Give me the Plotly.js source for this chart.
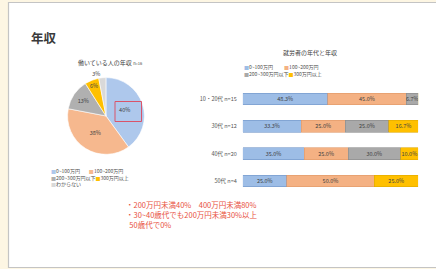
<!DOCTYPE html>
<html><head><meta charset="utf-8">
<script src="https://cdn.plot.ly/plotly-3.0.1.min.js"></script>
<style>html,body{margin:0;padding:0;background:#fdf6e3;}#c{width:436px;height:269px;}</style>
</head><body><div id="c"></div>
<script>
// Pie data
const pieLabels = ['0~100万円','100~200万円','200~300万円以下','300万円以上','わからない'];
const pieValues = [40, 38, 13, 6, 3];
// Bar data
const ageGroups = ['10・20代 n=15','30代 n=12','40代 n=20','50代 n=4'];
const seriesNames = ['0~100万円','100~200万円','200~300万円以下','300万円以上'];
const s1 = [48.3, 33.3, 35.0, 25.0];
const s2 = [45.0, 25.0, 25.0, 50.0];
const s3 = [6.7, 25.0, 30.0, 0];
const s4 = [0, 16.7, 10.0, 25.0];
const colors = ['#9dbde6','#f4b183','#a9a9a9','#ffc000'];
const pieColors = ['#aec8ec','#f6b88e','#b0b0b0','#ffc000','#d9d9d9'];
const lineColors = ['#6f95c8','#e09868','#8a8a8a','#e0a800'];

const F = '"Noto Sans CJK JP", "Noto Sans", sans-serif';
const traces = [];
traces.push({
  type:'pie', labels:pieLabels, values:pieValues, sort:false, direction:'clockwise', rotation:0,
  domain:{x:[0.155,0.331], y:[0.426,0.712]},
  marker:{colors:pieColors, line:{color:'#ffffff', width:0.6}},
  texttemplate:'%{value}%', textposition:['inside','inside','inside','inside','outside'],
  insidetextorientation:'horizontal',
  textfont:{family:F, size:5.5, color:'#404040'}, showlegend:false, hoverinfo:'none'
});
[s1,s2,s3,s4].forEach((s,i)=>{
  traces.push({
    type:'bar', orientation:'h', y:ageGroups, x:s, name:seriesNames[i],
    marker:{color:colors[i], line:{color:lineColors[i], width:0.6}},
    text:s.map(v=> v>0 ? v.toFixed(1)+'%' : ''), textposition:'inside', insidetextanchor:'middle',
    textangle:0, constraintext:'none',
    textfont:{family:F, size:5.5, color:'#404040'}, showlegend:false, hoverinfo:'none'
  });
});
const sq = c => '<span style="color:'+c+'">■</span>';
const layout = {
  width:436, height:269, margin:{l:0,r:0,t:0,b:0},
  paper_bgcolor:'#fdf6e3', plot_bgcolor:'rgba(0,0,0,0)',
  barmode:'stack', bargap:0.57, showlegend:false,
  font:{family:F},
  xaxis:{domain:[0.557,0.959], range:[0,100], visible:false, fixedrange:true},
  yaxis:{domain:[0.276,0.683], autorange:'reversed', showgrid:false, zeroline:false, showline:false,
    ticks:'outside', ticklen:4, tickcolor:'rgba(0,0,0,0)',
    tickfont:{family:F, size:5.5, color:'#555'}},
  shapes:[
    {type:'rect', xref:'paper', yref:'paper', x0:8.5/436, x1:1.01, y0:1-267.5/269, y1:1-2.5/269,
     fillcolor:'#ffffff', line:{color:'#c4c4c4', width:1.2}, layer:'below'},
    {type:'rect', xref:'paper', yref:'paper', x0:115/436, x1:141.5/436, y0:1-121.5/269, y1:1-101.5/269,
     line:{color:'#d9546a', width:1}, fillcolor:'rgba(0,0,0,0)'}
  ],
  annotations:[
    {text:'<b>年収</b>', x:29/436, y:1-37/269, xref:'paper', yref:'paper', xanchor:'left', yanchor:'middle', showarrow:false,
     font:{family:F, size:12.5, color:'#3a3a3a'}},
    {text:'働いている人の年収 <span style="font-size:4px">n=16</span>', x:111/436, y:1-63/269, xref:'paper', yref:'paper', xanchor:'center', yanchor:'middle', showarrow:false,
     font:{family:F, size:6, color:'#404040'}},
    {text:sq(pieColors[0])+'0~100万円'+'        '+sq(pieColors[1])+'100~200万円<br>'+sq(pieColors[2])+'200~300万円以下'+sq(pieColors[3])+'300万円以上<br>'+sq(pieColors[4])+'わからない',
     x:49/436, y:1-165/269, xref:'paper', yref:'paper', xanchor:'left', yanchor:'top', align:'left', showarrow:false,
     font:{family:F, size:5, color:'#505050'}},
    {text:'就労者の年代と年収', x:310/436, y:1-53/269, xref:'paper', yref:'paper', xanchor:'center', yanchor:'middle', showarrow:false,
     font:{family:F, size:6, color:'#404040'}},
    {text:sq(colors[0])+'0~100万円'+'          '+sq(colors[1])+'100~200万円<br>'+sq(colors[2])+'200~300万円以下'+sq(colors[3])+'300万円以上',
     x:242/436, y:1-61/269, xref:'paper', yref:'paper', xanchor:'left', yanchor:'top', align:'left', showarrow:false,
     font:{family:F, size:5, color:'#505050'}},
    {text:'・200万円未満40%　400万円未満80%<br>・30~40歳代でも200万円未満30%以上<br>  50歳代で0%',
     x:124/436, y:1-197/269, xref:'paper', yref:'paper', xanchor:'left', yanchor:'top', align:'left', showarrow:false,
     font:{family:F, size:7.5, color:'#e8503e'}}
  ]
};
Plotly.newPlot('c', traces, layout, {displayModeBar:false, staticPlot:true});
</script></body></html>
